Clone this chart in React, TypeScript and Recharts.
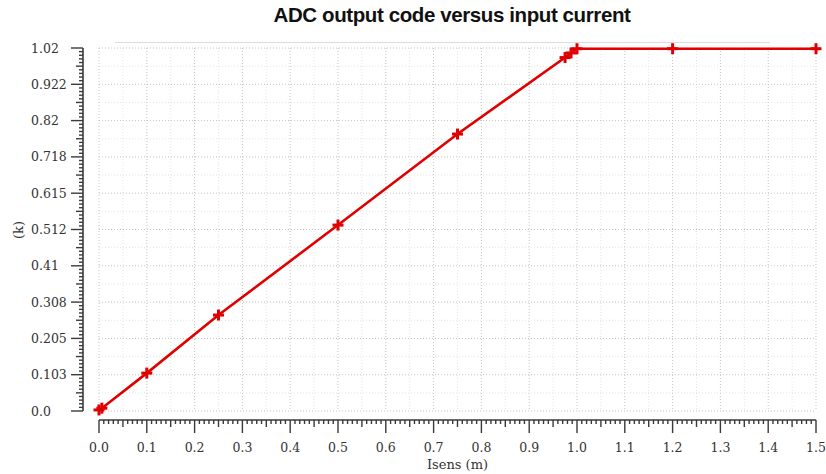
import React from "react";
import { LineChart, Line, XAxis, YAxis, CartesianGrid } from "recharts";

// Isens (mA) -> ADC code (k)
const ISENS = [0, 0.006, 0.1, 0.25, 0.5, 0.75, 0.975, 0.9875, 1.0, 1.2, 1.5];
const CODE = [0.003, 0.008, 0.107, 0.271, 0.525, 0.782, 0.998, 1.011, 1.023, 1.023, 1.023];

const X_TICKS = [0, 0.1, 0.2, 0.3, 0.4, 0.5, 0.6, 0.7, 0.8, 0.9, 1.0, 1.1, 1.2, 1.3, 1.4, 1.5];
const X_LABELS = ["0.0", "0.1", "0.2", "0.3", "0.4", "0.5", "0.6", "0.7", "0.8", "0.9", "1.0", "1.1", "1.2", "1.3", "1.4", "1.5"];
const Y_TICKS = [0, 0.1025, 0.205, 0.3075, 0.41, 0.5125, 0.615, 0.7175, 0.82, 0.9225, 1.025];
const Y_LABELS = ["0.0", "0.103", "0.205", "0.308", "0.41", "0.512", "0.615", "0.718", "0.82", "0.922", "1.02"];

const rows = ISENS.map((x, i) => ({ x, code: CODE[i] }));

const W = 826;
const H = 474;
const M = { top: 48, right: 10, bottom: 33, left: 0 };
const Y_AXIS_W = 99;
const X_AXIS_H = 30;
const PLOT_W = W - M.left - M.right - Y_AXIS_W;
const PLOT_H = H - M.top - M.bottom - X_AXIS_H;
// axes sit a little away from the plot box
const X_AXIS_Y = M.top + PLOT_H + 9;
const Y_AXIS_X = M.left + Y_AXIS_W - 16;

const RED = "#e00000";
const AXIS = "#3a3a3a";
const SERIF = "'DejaVu Serif', serif";

// split each major interval into n parts (for ruler ticks / grid)
function subdivide(major: number[], n: number) {
  const out: number[] = [];
  for (let i = 0; i < major.length - 1; i++) {
    for (let j = 0; j < n; j++) {
      out.push(+(major[i] + ((major[i + 1] - major[i]) * j) / n).toFixed(6));
    }
  }
  out.push(major[major.length - 1]);
  return out;
}

const xRuler = subdivide(X_TICKS, 10);
const yRuler = subdivide(Y_TICKS, 10);
const xMidGrid = subdivide(X_TICKS, 2).filter((_, i) => i % 2 === 1);
const yMidGrid = subdivide(Y_TICKS, 2).filter((_, i) => i % 2 === 1);

function XTick({ x, index }: any) {
  const k = index % 10;
  const len = k === 0 ? 13 : k === 5 ? 7 : 4;
  const ay = X_AXIS_Y;
  return (
    <g>
      {index === 0 && (
        <line x1={x} x2={x + PLOT_W} y1={ay} y2={ay} stroke={AXIS} strokeWidth={1.6} />
      )}
      <line x1={x} x2={x} y1={ay} y2={ay + len} stroke={AXIS} strokeWidth={1.4} />
      {k === 0 && (
        <text x={x} y={ay + 32} textAnchor="middle" fontFamily={SERIF} fontSize={12.5} fill="#333">
          {X_LABELS[index / 10]}
        </text>
      )}
    </g>
  );
}

function YTick({ y, index }: any) {
  const k = index % 10;
  const len = k === 0 ? 12 : k === 5 ? 7 : 4;
  const ax = Y_AXIS_X;
  return (
    <g>
      {index === 0 && (
        <line x1={ax} x2={ax} y1={y} y2={y - PLOT_H} stroke={AXIS} strokeWidth={1.6} />
      )}
      <line x1={ax} x2={ax - len} y1={y} y2={y} stroke={AXIS} strokeWidth={1.4} />
      {k === 0 && (
        <text x={31} y={y + 4.5} textAnchor="start" fontFamily={SERIF} fontSize={12.5} fill="#333">
          {Y_LABELS[index / 10]}
        </text>
      )}
    </g>
  );
}

function PlusDot({ cx, cy }: any) {
  if (cx == null || cy == null) return null;
  return (
    <g>
      <line x1={cx - 5.5} x2={cx + 5.5} y1={cy} y2={cy} stroke={RED} strokeWidth={3} />
      <line x1={cx} x2={cx} y1={cy - 5.5} y2={cy + 5.5} stroke={RED} strokeWidth={3} />
    </g>
  );
}

export default function App() {
  return (
    <div style={{ position: "absolute", left: 0, top: 0, width: W, height: H, background: "#fff" }}>
      <div
        style={{
          position: "absolute",
          top: 3,
          left: 0,
          width: 904,
          textAlign: "center",
          fontFamily: "'Liberation Sans', Arial, sans-serif",
          fontWeight: "bold",
          fontSize: 20.5,
          letterSpacing: -0.4,
          color: "#111",
        }}
      >
        ADC output code versus input current
      </div>
      <div style={{ position: "absolute", top: 42, left: 115, width: 655, borderTop: "1px solid #dcdcdc" }} />
      <LineChart width={W} height={H} data={rows} margin={M}>
        <CartesianGrid
          horizontalValues={yMidGrid}
          verticalValues={xMidGrid}
          stroke="#e4e4e4"
          strokeDasharray="1 2"
        />
        <CartesianGrid
          horizontalValues={Y_TICKS}
          verticalValues={X_TICKS}
          stroke="#c4c4c4"
          strokeDasharray="1 2"
        />
        <XAxis
          type="number"
          dataKey="x"
          domain={[0, 1.5]}
          ticks={xRuler}
          interval={0}
          tickSize={0}
          tickMargin={0}
          tickLine={false}
          tick={<XTick />}
          axisLine={false}
          height={X_AXIS_H}
        />
        <YAxis
          type="number"
          domain={[0, 1.025]}
          ticks={yRuler}
          interval={0}
          tickSize={0}
          tickMargin={0}
          tickLine={false}
          tick={<YTick />}
          axisLine={false}
          width={Y_AXIS_W}
        />
        <Line
          type="linear"
          dataKey="code"
          stroke={RED}
          strokeWidth={2.6}
          dot={<PlusDot />}
          activeDot={false}
          isAnimationActive={false}
        />
      </LineChart>
      <div
        style={{
          position: "absolute",
          left: 0,
          width: 915,
          top: 457,
          textAlign: "center",
          fontFamily: SERIF,
          fontSize: 13,
          color: "#333",
        }}
      >
        Isens (m)
      </div>
      <div
        style={{
          position: "absolute",
          left: 18,
          top: 230,
          transform: "translate(-50%, -50%) rotate(-90deg)",
          fontFamily: SERIF,
          fontSize: 13,
          color: "#333",
          whiteSpace: "nowrap",
        }}
      >
        (k)
      </div>
    </div>
  );
}
